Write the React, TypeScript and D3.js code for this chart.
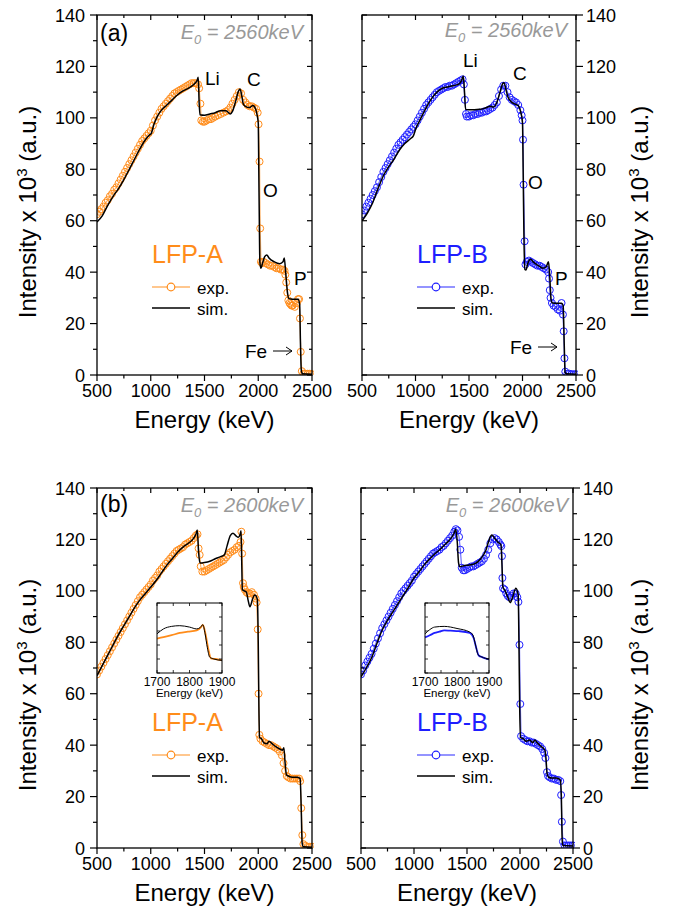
import React from "react";
import * as d3 from "d3";

type Pt = [number, number];

// ---------- axis ticks ----------
const energyTicks = [500, 1000, 1500, 2000, 2500];
const energyMinorTicks = [750, 1250, 1750, 2250];
const intensityTicks = [0, 20, 40, 60, 80, 100, 120, 140];
const intensityMinorTicks = [10, 30, 50, 70, 90, 110, 130];
const insetEnergyTicks = [1700, 1800, 1900];
const insetEnergyMinorTicks = [1750, 1850];
const insetIntensityTicks = [90, 100, 110, 120, 130, 140];

const sampleNames = ["LFP-A", "LFP-B"];
const beamEnergies = ["2560", "2600"];
const panelTags = ["(a)", "(b)"];

// ---------- (a) E0 = 2560 keV, LFP-A ----------
const expA1: Pt[] = [[500,62.5],[520,63.5],[540,64.5],[560,65.5],[580,67],[600,68],[620,69.5],[640,70.5],[660,72],[680,73],[700,74.5],[720,76],[740,77.5],[760,79],[780,80.5],[800,82],[820,83.5],[840,85],[860,86.5],[880,88],[900,89.5],[920,91],[940,92],[960,93],[980,94],[1000,95],[1020,97],[1040,99],[1060,100.5],[1080,102],[1100,103.5],[1120,104.5],[1140,105.5],[1160,106.5],[1180,107.5],[1200,108.5],[1220,109.5],[1240,110],[1260,110.5],[1280,111],[1300,111.5],[1320,112],[1340,112.5],[1360,113],[1380,113.5],[1400,113.5],[1420,113.5],[1440,113],[1450,111.5],[1462,105.5],[1470,99],[1485,98.5],[1500,98.5],[1520,99],[1540,99.5],[1560,99.5],[1580,100],[1600,100.5],[1625,101],[1650,101.5],[1675,102],[1700,102.5],[1720,103],[1740,104],[1760,105.5],[1780,107],[1800,108.5],[1820,110],[1840,109.5],[1860,107],[1880,106],[1900,105],[1920,104.5],[1940,104.5],[1960,104],[1980,103.5],[1995,102],[2003,97.5],[2012,83],[2018,57],[2025,44],[2035,43.5],[2050,44],[2070,43.5],[2090,43],[2110,42.5],[2130,42.5],[2150,42],[2170,41.5],[2190,41.5],[2210,41],[2230,41],[2245,40.5],[2252,39],[2260,36],[2270,32],[2280,29],[2290,28],[2300,27.5],[2310,27],[2320,27],[2340,26.5],[2360,28],[2370,29.5],[2380,29.5],[2388,22],[2395,9],[2405,1.5],[2420,0.5],[2440,0.5],[2460,0.5],[2480,0.5],[2500,0.3]];
const simA1: Pt[] = [[500,59.5],[550,62],[600,66],[650,69.5],[700,72.5],[750,76],[800,80],[850,84],[900,88],[950,91.5],[985,93.2],[1005,94],[1030,97.5],[1060,100.5],[1100,103],[1150,105],[1200,107],[1250,109],[1300,110.5],[1350,111.5],[1400,113],[1430,114.5],[1442,115.8],[1450,106],[1458,101.2],[1500,101],[1550,101.5],[1600,102],[1650,102.8],[1700,102.8],[1740,101.5],[1760,102.5],[1790,106.5],[1815,110.3],[1830,111.2],[1845,109],[1860,105.5],[1880,104.5],[1920,104],[1950,104.8],[1970,104],[1990,101],[2000,98],[2005,80],[2010,60],[2015,44],[2025,41.5],[2040,43.5],[2060,46],[2080,46.7],[2100,45.5],[2150,44],[2200,43.3],[2230,44],[2242,45.5],[2255,40],[2272,32],[2285,29.7],[2320,29.5],[2370,29.5],[2385,27.5],[2393,12],[2400,2],[2410,0.5],[2500,0.3]];

// ---------- (a) E0 = 2560 keV, LFP-B ----------
const expB1: Pt[] = [[500,62.5],[520,64],[540,65.5],[560,67],[580,68.5],[600,70],[620,71.5],[640,73],[660,75],[680,77],[700,79],[720,80.5],[740,82],[760,83.5],[780,85],[800,86.5],[820,88],[840,89.5],[860,90.5],[880,91.5],[900,92.5],[920,93.5],[940,94.5],[960,95.5],[980,96.5],[1000,97.5],[1020,99],[1040,100.5],[1060,102],[1080,103.5],[1100,105],[1120,106],[1140,107],[1160,108],[1180,109],[1200,110],[1220,110.5],[1240,111],[1260,111.5],[1280,112],[1300,112],[1320,112.5],[1340,112.5],[1360,113],[1380,113.5],[1400,114],[1420,114.5],[1440,115],[1452,113],[1462,107],[1472,101.5],[1480,100.5],[1500,100.5],[1520,101],[1540,101],[1560,101.5],[1580,101.5],[1600,102],[1620,102],[1640,102.5],[1660,102.5],[1680,103],[1700,103.5],[1720,104],[1740,105],[1760,106],[1780,108.5],[1800,111],[1820,112.5],[1840,112.5],[1860,110],[1880,108],[1900,107],[1920,106.5],[1940,106],[1960,105],[1980,103],[1992,101],[2000,99],[2005,91.5],[2010,74],[2020,52],[2028,43],[2040,44],[2060,44.5],[2080,44],[2100,43.5],[2120,43],[2140,42.5],[2160,42.5],[2180,42],[2200,41.5],[2220,41],[2240,40],[2248,37.5],[2255,33],[2262,30],[2275,28],[2290,27],[2310,26.5],[2330,25.5],[2350,25],[2365,28],[2378,23.5],[2385,17],[2392,6.5],[2400,1.3],[2420,0.5],[2440,0.5],[2460,0.3],[2480,0.3],[2500,0.3]];
const simB1: Pt[] = [[500,60],[550,63],[600,67],[650,72.5],[700,77.5],[750,81],[800,84],[850,87.5],[900,90],[950,91.8],[980,93],[1005,96],[1040,99],[1100,104],[1150,107.5],[1200,110],[1250,111.5],[1300,112],[1350,112.5],[1400,113],[1430,114.5],[1447,116.3],[1458,110],[1468,103.3],[1500,103.2],[1550,103.2],[1600,103.3],[1650,103.8],[1700,104.5],[1730,104.2],[1760,106],[1790,110],[1815,113.3],[1827,113.7],[1845,111],[1865,108],[1890,106.5],[1920,105.5],[1950,105],[1965,104.5],[1985,102],[2000,98],[2006,80],[2013,55],[2022,41],[2032,40.8],[2050,43.5],[2077,45],[2100,44],[2150,42.5],[2190,41.5],[2220,42],[2243,44],[2255,38],[2268,29],[2280,28],[2320,27.9],[2365,27.9],[2380,27],[2390,12],[2398,1],[2410,0.5],[2500,0.3]];

// ---------- (b) E0 = 2600 keV, LFP-A ----------
const expA2: Pt[] = [[500,67.5],[520,69],[540,70.5],[560,72],[580,73.5],[600,75],[620,76.5],[640,78],[660,79.5],[680,81],[700,82.5],[720,84],[740,85.5],[760,87],[780,88.5],[800,90],[820,91.5],[840,93],[860,94.5],[880,96],[900,97.5],[920,98.5],[940,99.5],[960,100.5],[980,101.5],[1000,102.5],[1020,104],[1040,105],[1060,106],[1080,107.5],[1100,108.5],[1120,109.5],[1140,110.5],[1160,111.5],[1180,112.5],[1200,113.5],[1220,114.5],[1240,115.5],[1260,116],[1280,116.5],[1300,117],[1320,118],[1340,118.5],[1360,119],[1380,119.5],[1400,120.5],[1420,121.5],[1435,122],[1445,116.5],[1455,114],[1465,109.5],[1480,107.5],[1500,107.5],[1520,108],[1540,108.5],[1560,109],[1580,109.5],[1600,110],[1620,110.5],[1640,111],[1660,111.5],[1680,112],[1700,113],[1720,114],[1740,115],[1760,115.5],[1780,116],[1800,117],[1820,117.5],[1835,119],[1843,123],[1850,114.5],[1858,103],[1865,101.5],[1875,100.5],[1890,99.5],[1905,99],[1920,99],[1940,99.5],[1960,98.5],[1975,97],[1985,95.5],[1995,85],[2003,60],[2010,44],[2020,42.5],[2040,41.5],[2060,41],[2080,40.5],[2100,40],[2120,40],[2140,39.5],[2160,39],[2180,38.5],[2200,37.5],[2220,36],[2235,33],[2250,30],[2265,28],[2280,27.5],[2300,27],[2320,27],[2340,27],[2360,27],[2380,27],[2390,26],[2400,15.5],[2410,5],[2420,1.5],[2440,0.8],[2460,0.5],[2480,0.5],[2500,0.5]];
const simA2: Pt[] = [[500,67],[550,71],[600,75],[650,79],[700,83],[750,86.5],[800,90],[850,93.5],[900,96.5],[950,99],[1000,101.5],[1050,104],[1100,107],[1150,110],[1200,112.5],[1250,115],[1300,117],[1350,118.5],[1400,120.5],[1420,122],[1433,123.7],[1445,115],[1458,110.8],[1500,111],[1550,111.5],[1600,112.5],[1650,113.3],[1685,114],[1710,117.5],[1740,121.5],[1765,122.4],[1790,121.5],[1815,120.8],[1830,121.8],[1840,123.4],[1846,112],[1852,100.5],[1870,100],[1890,99.5],[1905,96.5],[1923,93.8],[1945,96.5],[1965,98.4],[1980,98],[1992,96.5],[2000,80],[2006,55],[2012,43],[2030,42.5],[2050,41],[2080,40.5],[2100,41.5],[2130,40.5],[2160,39.5],[2200,38.5],[2225,38],[2238,39],[2250,33],[2262,28.5],[2280,28],[2320,27.5],[2360,27.5],[2390,27],[2400,15],[2408,2],[2420,0.5],[2500,0.3]];

// ---------- (b) E0 = 2600 keV, LFP-B ----------
const expB2: Pt[] = [[500,67.5],[520,69],[540,71],[560,72.5],[580,74],[600,75.5],[620,77.5],[640,79.5],[660,81.5],[680,83.5],[700,85.5],[720,87],[740,88.5],[760,90],[780,91.5],[800,93],[820,94.5],[840,96],[860,97.5],[880,99],[900,100],[920,101],[940,102],[960,103],[980,104],[1000,105.5],[1020,106.5],[1040,107.5],[1060,108.5],[1080,109.5],[1100,110.5],[1120,111.5],[1140,112.5],[1160,113.5],[1180,114.5],[1200,115],[1220,115.5],[1240,116],[1260,117],[1280,117.5],[1300,118.5],[1320,119.5],[1340,120.5],[1360,121.5],[1380,123],[1395,124],[1410,123.5],[1425,121],[1437,116],[1450,109],[1465,108],[1480,108],[1500,108.5],[1520,109],[1540,109.5],[1560,109.5],[1580,110],[1600,110.5],[1620,111],[1640,111.5],[1660,112.5],[1680,114],[1700,116],[1720,118.5],[1740,120],[1760,120.5],[1780,120],[1800,119],[1815,118],[1824,117.4],[1830,113.5],[1834,105],[1840,101],[1855,100.5],[1870,99],[1885,98],[1900,97.5],[1920,98],[1940,99],[1960,99],[1975,97.5],[1985,95.7],[1995,79],[2003,56],[2010,43.5],[2030,42.5],[2050,42],[2070,41.5],[2090,41.5],[2110,41],[2130,41],[2150,40.5],[2170,40],[2190,39.5],[2210,38.5],[2228,37],[2240,35],[2255,29.5],[2265,28],[2280,27.5],[2300,27],[2320,27],[2340,26.5],[2360,26.5],[2380,26],[2388,20.6],[2395,10.2],[2405,2.5],[2420,1],[2440,1],[2460,1],[2480,1],[2500,1]];
const simB2: Pt[] = [[500,66.6],[550,70],[600,74],[650,79.5],[700,84.8],[750,88.5],[800,91.8],[850,95],[900,98.3],[950,101.5],[1000,105],[1050,107.5],[1100,110.3],[1150,112.5],[1200,114.5],[1250,116.3],[1300,118.3],[1350,120.5],[1380,122.5],[1394,124],[1408,119],[1420,111],[1432,109.4],[1470,109.8],[1510,110],[1570,110.5],[1630,112.5],[1680,116],[1710,120],[1734,121.7],[1760,120.5],[1790,119],[1821,117.8],[1830,110],[1838,101.6],[1860,100],[1883,97.7],[1908,95.4],[1930,97.5],[1961,101],[1983,98.4],[1990,80],[1997,55],[2005,43],[2030,42.5],[2060,41.5],[2090,42],[2120,41],[2140,42],[2160,41],[2200,39.5],[2235,38],[2245,35],[2255,29],[2270,27.5],[2300,27.2],[2340,27.2],[2380,26.5],[2390,20],[2398,3],[2405,1],[2500,0.8]];

// ---------- insets (1700-1900 keV) ----------
const insetSimA: Pt[] = [[1700,118],[1720,121.5],[1745,123.3],[1770,123.8],[1800,122.8],[1822,121.5],[1833,122.5],[1841,124.5],[1848,118],[1855,108],[1862,101.4],[1875,100],[1900,99]];
const insetExpA: Pt[] = [[1700,114.6],[1720,115.6],[1745,117],[1770,118.6],[1795,119.5],[1822,120.5],[1835,122.5],[1841,124.3],[1850,117],[1858,107],[1866,100.5],[1880,100],[1900,99]];
const insetSimB: Pt[] = [[1700,118],[1715,121],[1730,122.8],[1760,123.3],[1800,121.8],[1840,119.2],[1850,117],[1858,110],[1866,103],[1877,101.5],[1900,100]];
const insetExpB: Pt[] = [[1700,115.5],[1715,117],[1730,118.6],[1745,119.5],[1760,120.5],[1780,120.2],[1805,119.9],[1840,118.6],[1852,115],[1860,108],[1868,102.5],[1880,101.2],[1900,99.8]];

const FONT = "'Liberation Sans', Arial, Helvetica, sans-serif";
const ORANGE = "#ff8c1a";
const ORANGE_LINE = "#ffb469";
const BLUE = "#1e1eff";
const BLUE_LINE = "#7070ff";
const GRAY = "#999999";

interface Label { t: string; x: number; y: number }
interface InsetBox { x0: number; y0: number; x1: number; y1: number; sim: Pt[]; exp: Pt[] }
interface PanelProps {
  id: string;
  x0: number; x1: number; y0: number; y1: number;
  side: "left" | "right";
  exp: Pt[]; sim: Pt[];
  color: string; lineColor: string;
  name: string; e0: string; tag?: string; tagY?: number;
  nameX: number; nameY: number; e0X: number; e0Y: number;
  labels?: Label[];
  fe?: { x: number; y: number; ax0: number; ax1: number; ay: number };
  inset?: InsetBox;
}

function Inset({ box, color }: { box: InsetBox; color: string }) {
  const x = d3.scaleLinear().domain([1700, 1900]).range([box.x0, box.x1]);
  const y = d3.scaleLinear().domain([90, 140]).range([box.y1, box.y0]);
  const line = d3.line<Pt>().x((d) => x(d[0])).y((d) => y(d[1])).curve(d3.curveMonotoneX);
  const allX = [...insetEnergyTicks, ...insetEnergyMinorTicks];
  return (
    <g>
      <rect x={box.x0} y={box.y0} width={box.x1 - box.x0} height={box.y1 - box.y0} fill="white" />
      <path d={line(box.exp) || ""} fill="none" stroke={color} strokeWidth={1.8} />
      <path d={line(box.sim) || ""} fill="none" stroke="black" strokeWidth={1} />
      {allX.map((v) => (
        <g key={"ix" + v}>
          <line x1={x(v)} x2={x(v)} y1={box.y0} y2={box.y0 + 3} stroke="black" strokeWidth={0.8} />
          <line x1={x(v)} x2={x(v)} y1={box.y1} y2={box.y1 - 3} stroke="black" strokeWidth={0.8} />
        </g>
      ))}
      {insetIntensityTicks.map((v) => (
        <g key={"iy" + v}>
          <line x1={box.x0} x2={box.x0 + 3} y1={y(v)} y2={y(v)} stroke="black" strokeWidth={0.8} />
          <line x1={box.x1} x2={box.x1 - 3} y1={y(v)} y2={y(v)} stroke="black" strokeWidth={0.8} />
        </g>
      ))}
      <rect x={box.x0} y={box.y0} width={box.x1 - box.x0} height={box.y1 - box.y0} fill="none" stroke="black" strokeWidth={1} />
      {insetEnergyTicks.map((v) => (
        <text key={"il" + v} x={x(v)} y={box.y1 + 13} textAnchor="middle" fontSize={12}>{v}</text>
      ))}
      <text x={(box.x0 + box.x1) / 2} y={box.y1 + 24} textAnchor="middle" fontSize={11.5}>Energy (keV)</text>
    </g>
  );
}

function Panel(p: PanelProps) {
  const x = d3.scaleLinear().domain([500, 2500]).range([p.x0, p.x1]);
  const y = d3.scaleLinear().domain([0, 140]).range([p.y1, p.y0]);
  const expLine = d3.line<Pt>().x((d) => x(d[0])).y((d) => y(d[1]));
  const simLine = d3.line<Pt>().x((d) => x(d[0])).y((d) => y(d[1])).curve(d3.curveMonotoneX);
  const labelAxisX = p.side === "left" ? p.x0 : p.x1;
  const outDir = p.side === "left" ? -1 : 1;
  const oppX = p.side === "left" ? p.x1 : p.x0;
  const inDir = p.side === "left" ? -1 : 1;
  const ticks: React.ReactNode[] = [];
  energyTicks.forEach((v) => {
    ticks.push(<line key={"bx" + v} x1={x(v)} x2={x(v)} y1={p.y1} y2={p.y1 + 6} />);
    ticks.push(<line key={"tx" + v} x1={x(v)} x2={x(v)} y1={p.y0} y2={p.y0 + 5} />);
  });
  energyMinorTicks.forEach((v) => {
    ticks.push(<line key={"bxm" + v} x1={x(v)} x2={x(v)} y1={p.y1} y2={p.y1 + 3.5} />);
    ticks.push(<line key={"txm" + v} x1={x(v)} x2={x(v)} y1={p.y0} y2={p.y0 + 3} />);
  });
  intensityTicks.forEach((v) => {
    ticks.push(<line key={"ly" + v} x1={labelAxisX} x2={labelAxisX + outDir * 7} y1={y(v)} y2={y(v)} />);
    ticks.push(<line key={"oy" + v} x1={oppX} x2={oppX + inDir * 5} y1={y(v)} y2={y(v)} />);
  });
  intensityMinorTicks.forEach((v) => {
    ticks.push(<line key={"lym" + v} x1={labelAxisX} x2={labelAxisX + outDir * 4} y1={y(v)} y2={y(v)} />);
    ticks.push(<line key={"oym" + v} x1={oppX} x2={oppX + inDir * 3} y1={y(v)} y2={y(v)} />);
  });
  const titleX = p.side === "left" ? 36 : 648;
  const titleY = (p.y0 + p.y1) / 2 + 17;
  const clipId = "clip-" + p.id;
  return (
    <g>
      <defs>
        <clipPath id={clipId}>
          <rect x={p.x0} y={p.y0 - 2} width={p.x1 - p.x0 + 2} height={p.y1 - p.y0 + 2} />
        </clipPath>
      </defs>
      <g clipPath={`url(#${clipId})`}>
        <path d={expLine(p.exp) || ""} fill="none" stroke={p.lineColor} strokeWidth={1.2} />
        {p.exp.map((d, i) => (
          <circle key={i} cx={x(d[0])} cy={y(d[1])} r={3.5} fill="none" stroke={p.color} strokeWidth={1} />
        ))}
        <path d={simLine(p.sim) || ""} fill="none" stroke="black" strokeWidth={1.5} />
      </g>
      {p.inset && <Inset box={p.inset} color={p.color} />}
      <g stroke="black" strokeWidth={1.2}>{ticks}</g>
      <rect x={p.x0} y={p.y0} width={p.x1 - p.x0} height={p.y1 - p.y0} fill="none" stroke="black" strokeWidth={1.3} />
      {energyTicks.map((v) => (
        <text key={"xl" + v} x={x(v)} y={p.y1 + 22} textAnchor="middle" fontSize={18}>{v}</text>
      ))}
      {intensityTicks.map((v) => (
        <text key={"yl" + v} x={p.side === "left" ? p.x0 - 12 : p.x1 + 10} y={y(v) + 6.5}
          textAnchor={p.side === "left" ? "end" : "start"} fontSize={18}>{v}</text>
      ))}
      <text x={(p.x0 + p.x1) / 2} y={p.y1 + 53} textAnchor="middle" fontSize={24}>Energy (keV)</text>
      <text transform={`translate(${titleX},${titleY}) rotate(-90)`} textAnchor="middle" fontSize={24}>
        Intensity x 10<tspan dy={-9} fontSize={15}>3</tspan><tspan dy={9}> (a.u.)</tspan>
      </text>
      {p.tag && <text x={p.x0 + 3} y={p.tagY} fontSize={23}>{p.tag}</text>}
      <text x={p.e0X} y={p.e0Y} textAnchor="end" fontStyle="italic" fill={GRAY} fontSize={20}>
        E<tspan dy={5} fontSize={13}>0</tspan><tspan dy={-5}>{" = " + p.e0 + "keV"}</tspan>
      </text>
      <text x={p.nameX} y={p.nameY} fontSize={25} fill={p.color}>{p.name}</text>
      <line x1={p.nameX} x2={p.nameX + 38} y1={p.nameY + 24} y2={p.nameY + 24} stroke={p.lineColor} strokeWidth={1.5} />
      <circle cx={p.nameX + 19} cy={p.nameY + 24} r={3.8} fill="white" stroke={p.color} strokeWidth={1.2} />
      <text x={p.nameX + 45} y={p.nameY + 30.5} fontSize={17}>exp.</text>
      <line x1={p.nameX} x2={p.nameX + 38} y1={p.nameY + 45} y2={p.nameY + 45} stroke="black" strokeWidth={1.5} />
      <text x={p.nameX + 45} y={p.nameY + 52} fontSize={17}>sim.</text>
      {p.labels && p.labels.map((l) => (
        <text key={l.t} x={l.x} y={l.y} fontSize={19}>{l.t}</text>
      ))}
      {p.fe && (
        <g>
          <text x={p.fe.x} y={p.fe.y} fontSize={19}>Fe</text>
          <line x1={p.fe.ax0} x2={p.fe.ax1} y1={p.fe.ay} y2={p.fe.ay} stroke="black" strokeWidth={1} />
          <path d={`M${p.fe.ax1 - 6},${p.fe.ay - 4} L${p.fe.ax1},${p.fe.ay} L${p.fe.ax1 - 6},${p.fe.ay + 4}`} fill="none" stroke="black" strokeWidth={1} />
        </g>
      )}
    </g>
  );
}

export default function App() {
  return (
    <svg width={676} height={914} fontFamily={FONT} style={{ position: "absolute", left: 0, top: 0, display: "block" }}>
      <rect x={0} y={0} width={676} height={914} fill="white" />
      <Panel id="a1" x0={97} x1={312} y0={15} y1={375} side="left" exp={expA1} sim={simA1}
        color={ORANGE} lineColor={ORANGE_LINE} name={sampleNames[0]} e0={beamEnergies[0]}
        tag={panelTags[0]} tagY={41} nameX={152} nameY={263} e0X={303} e0Y={39}
        labels={[{ t: "Li", x: 205, y: 85 }, { t: "C", x: 247, y: 86 }, { t: "O", x: 263, y: 197 }, { t: "P", x: 294, y: 285 }]}
        fe={{ x: 245, y: 358, ax0: 273, ax1: 292, ay: 351 }} />
      <Panel id="b1" x0={362} x1={576} y0={15} y1={375} side="right" exp={expB1} sim={simB1}
        color={BLUE} lineColor={BLUE_LINE} name={sampleNames[1]} e0={beamEnergies[0]}
        nameX={417} nameY={263} e0X={567} e0Y={37}
        labels={[{ t: "Li", x: 463, y: 67 }, { t: "C", x: 513, y: 80 }, { t: "O", x: 528, y: 189 }, { t: "P", x: 555, y: 285 }]}
        fe={{ x: 510, y: 354, ax0: 538, ax1: 557, ay: 347 }} />
      <Panel id="a2" x0={97} x1={312} y0={488} y1={848} side="left" exp={expA2} sim={simA2}
        color={ORANGE} lineColor={ORANGE_LINE} name={sampleNames[0]} e0={beamEnergies[1]}
        tag={panelTags[1]} tagY={512} nameX={152} nameY={731} e0X={303} e0Y={512}
        inset={{ x0: 157, y0: 603, x1: 222, y1: 673, sim: insetSimA, exp: insetExpA }} />
      <Panel id="b2" x0={361} x1={573} y0={488} y1={848} side="right" exp={expB2} sim={simB2}
        color={BLUE} lineColor={BLUE_LINE} name={sampleNames[1]} e0={beamEnergies[1]}
        nameX={417} nameY={731} e0X={568} e0Y={512}
        inset={{ x0: 425, y0: 603, x1: 489, y1: 673, sim: insetSimB, exp: insetExpB }} />
    </svg>
  );
}
